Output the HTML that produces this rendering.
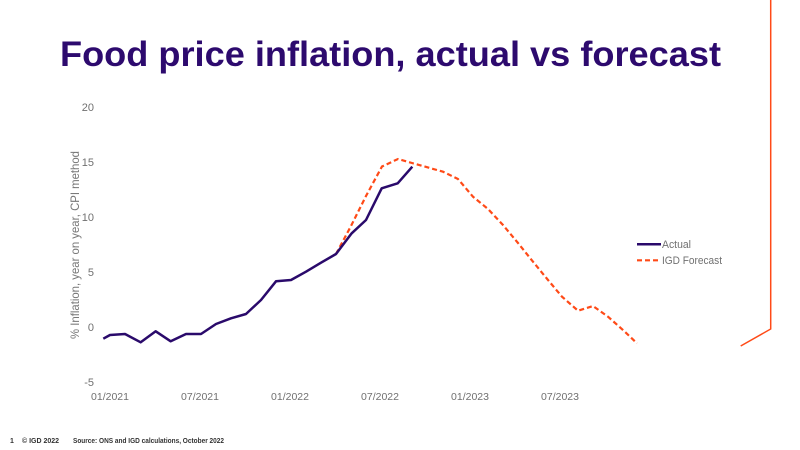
<!DOCTYPE html>
<html><head><meta charset="utf-8"><style>
html,body{margin:0;padding:0;background:#fff;}
svg{display:block;}
</style></head><body>
<svg width="800" height="450" viewBox="0 0 800 450" xmlns="http://www.w3.org/2000/svg">
<rect width="800" height="450" fill="#fff"/>
<text x="60" y="66" font-family="Liberation Sans, sans-serif" font-weight="bold" font-size="35" fill="#2d0a6e" textLength="661" lengthAdjust="spacingAndGlyphs">Food price inflation, actual vs forecast</text>

<g font-family="Liberation Sans, sans-serif" font-size="11" fill="#707070" text-anchor="end">
<text x="94" y="111">20</text>
<text x="94" y="166">15</text>
<text x="94" y="221">10</text>
<text x="94" y="276">5</text>
<text x="94" y="331">0</text>
<text x="94" y="386">-5</text>
</g>
<g font-family="Liberation Sans, sans-serif" font-size="10.5" fill="#707070" text-anchor="middle">
<text x="110" y="400">01/2021</text>
<text x="200" y="400">07/2021</text>
<text x="290" y="400">01/2022</text>
<text x="380" y="400">07/2022</text>
<text x="470" y="400">01/2023</text>
<text x="560" y="400">07/2023</text>
</g>
<text transform="translate(79,245) rotate(-90)" font-family="Liberation Sans, sans-serif" font-size="12" fill="#777" text-anchor="middle" textLength="188" lengthAdjust="spacingAndGlyphs">% Inflation, year on year, CPI method</text>

<polyline fill="none" stroke="#ff4a17" stroke-width="2.2" stroke-dasharray="5,3" points="336,254 351,226 366,196 382,166.5 398,159 412,163 443,171.7 458,179 473,196.7 488,209 503,225 518,243 533,261.7 548,280 562,296.7 578,310.7 593,306 608,316.7 623,330 637,343.3"/>
<polyline fill="none" stroke="#2a0a6b" stroke-width="2.5" stroke-linejoin="round" points="103.3,338.7 110,335 125,334 140.7,342.3 155.7,331.3 170.7,341.3 186,334 201,334 216,324 231,318.3 246,314 261,300 276,281.3 291,280 306,271.7 321,262.7 336,254 351.7,233.3 366,220 381.7,188.3 397.7,183.3 412.3,166.7"/>

<line x1="637" y1="244.3" x2="661" y2="244.3" stroke="#2a0a6b" stroke-width="2.5"/>
<line x1="637" y1="260.3" x2="661" y2="260.3" stroke="#ff4a17" stroke-width="2.2" stroke-dasharray="5,3"/>
<g font-family="Liberation Sans, sans-serif" font-size="11" fill="#707070">
<text x="662" y="248" textLength="29" lengthAdjust="spacingAndGlyphs">Actual</text>
<text x="662" y="264" textLength="60" lengthAdjust="spacingAndGlyphs">IGD Forecast</text>
</g>

<polyline fill="none" stroke="#ff4a17" stroke-width="1.5" points="770.7,0 770.7,329 740.7,346"/>

<g font-family="Liberation Sans, sans-serif" font-size="7" font-weight="bold" fill="#333">
<text x="10" y="443">1</text>
<text x="22" y="443">© IGD 2022</text>
<text x="73" y="443" textLength="151" lengthAdjust="spacingAndGlyphs">Source: ONS and IGD calculations, October 2022</text>
</g>
</svg>
</body></html>
